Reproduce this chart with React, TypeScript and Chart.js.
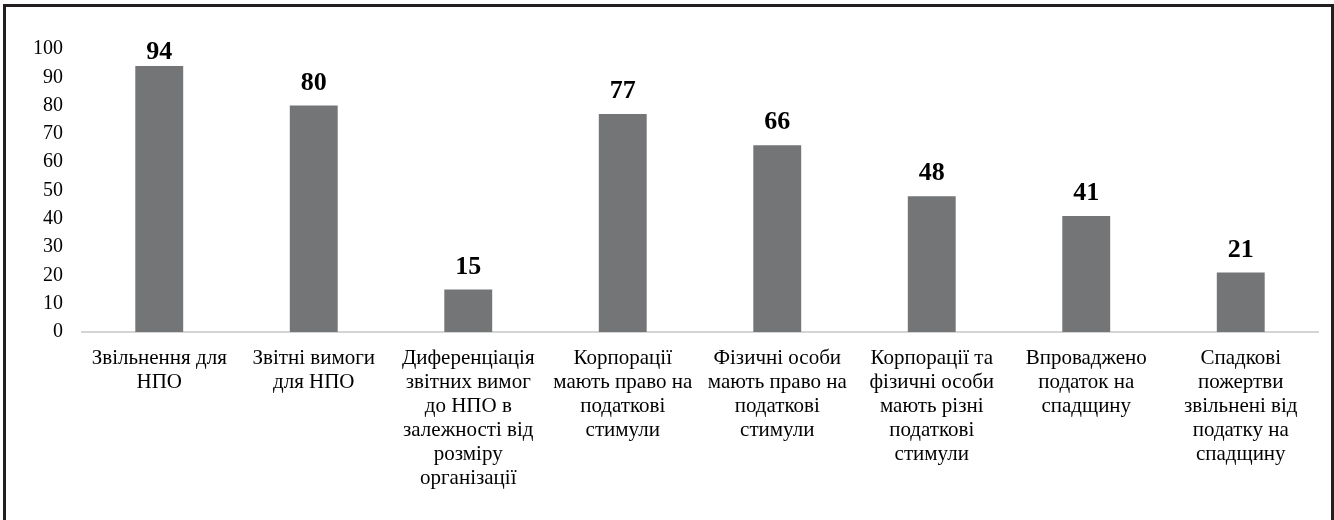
import React, { useEffect, useRef } from "react";
import { Chart, registerables } from "chart.js";

Chart.register(...registerables);

const categories: string[][] = [
  ["Звільнення для", "НПО"],
  ["Звітні вимоги", "для НПО"],
  ["Диференціація", "звітних вимог", "до НПО в", "залежності від", "розміру", "організації"],
  ["Корпорації", "мають право на", "податкові", "стимули"],
  ["Фізичні особи", "мають право на", "податкові", "стимули"],
  ["Корпорації та", "фізичні особи", "мають різні", "податкові", "стимули"],
  ["Впроваджено", "податок на", "спадщину"],
  ["Спадкові", "пожертви", "звільнені від", "податку на", "спадщину"],
];
const values: number[] = [94, 80, 15, 77, 66, 48, 41, 21];
const yMax = 100;
const yStep = 10;

const FONT = "'Liberation Serif', 'Times New Roman', serif";

const valueLabels = {
  id: "valueLabels",
  afterDatasetsDraw(chart: any) {
    const ctx = chart.ctx;
    const meta = chart.getDatasetMeta(0);
    ctx.save();
    ctx.font = `bold 26px ${FONT}`;
    ctx.fillStyle = "#000";
    ctx.textAlign = "center";
    ctx.textBaseline = "alphabetic";
    const minBaseline = 59;
    meta.data.forEach((bar: any, i: number) => {
      const yb = Math.max(bar.y - 16, minBaseline);
      ctx.fillText(String(values[i]), bar.x, yb);
    });
    ctx.restore();
  },
};

export default function App() {
  const ref = useRef<HTMLCanvasElement | null>(null);
  useEffect(() => {
    document.body.style.margin = "0";
    if (!ref.current) return;
    const chart = new Chart(ref.current, {
      type: "bar",
      data: {
        labels: categories,
        datasets: [
          {
            data: values,
            backgroundColor: "#737577",
            barPercentage: 0.31,
            categoryPercentage: 1,
          },
        ],
      },
      options: {
        animation: false,
        responsive: false,
        maintainAspectRatio: false,
        layout: { padding: { top: 49, right: 16, left: 0, bottom: 0 } },
        plugins: { legend: { display: false }, tooltip: { enabled: false } },
        scales: {
          x: {
            grid: { display: false, drawTicks: false },
            border: { display: true, color: "#d4d4d4", width: 2 },
            ticks: {
              color: "#000",
              font: { family: FONT, size: 21, lineHeight: 24 / 21 },
              padding: 14,
              maxRotation: 0,
              autoSkip: false,
            },
            afterFit(scale: any) {
              scale.height = 188;
            },
          },
          y: {
            min: 0,
            max: yMax,
            grid: { display: false, drawTicks: false },
            border: { display: false },
            ticks: {
              stepSize: yStep,
              color: "#000",
              font: { family: FONT, size: 20 },
              padding: 19,
            },
            afterFit(scale: any) {
              scale.width = 82;
            },
          },
        },
      },
      plugins: [valueLabels],
    });
    return () => chart.destroy();
  }, []);
  return (
    <div style={{ position: "relative", width: 1334, height: 520, overflow: "hidden", background: "#fff" }}>
      <canvas ref={ref} width={1334} height={520} style={{ position: "absolute", left: 0, top: 0 }} />
      <div
        style={{
          position: "absolute",
          left: 3,
          top: 4,
          width: 1325,
          height: 600,
          borderTop: "3px solid #231f20",
          borderLeft: "3px solid #231f20",
          borderRight: "3px solid #231f20",
          pointerEvents: "none",
        }}
      />
    </div>
  );
}
